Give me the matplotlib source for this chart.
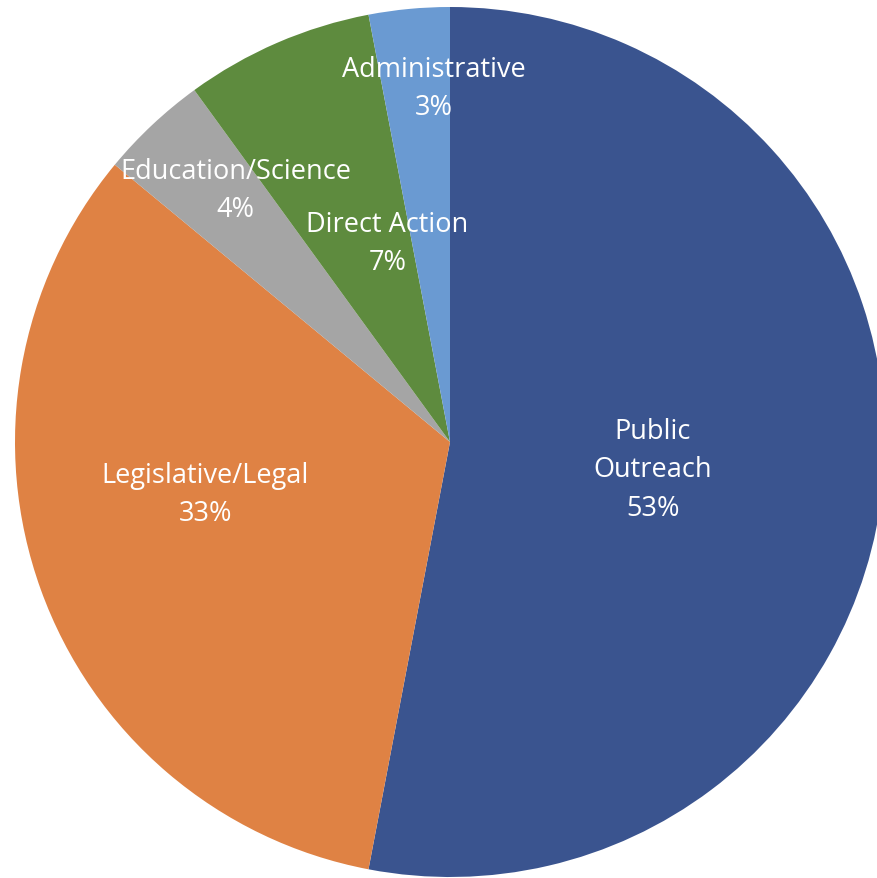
import numpy as np
import matplotlib.pyplot as plt

# slice data, clockwise from 12 o'clock
labels = ['Public\nOutreach', 'Legislative/Legal', 'Education/Science', 'Direct Action', 'Administrative']
shares = [53, 33, 4, 7, 3]
colors = ['#3A548F', '#DF8244', '#A5A5A5', '#5E8B3E', '#6A9AD2']

# where each label sits inside its slice (fraction of radius, angle nudge in degrees)
label_r = [0.47, 0.575, 0.76, 0.48, 0.815]
label_nudge = [-2.2, -7.8, -2.8, -6.0, -2.8]

fig = plt.figure(figsize=(8.77, 8.79), dpi=100)
ax = fig.add_axes([15 / 877, 1 / 879, 870 / 877, 870 / 879])

wedges, _ = ax.pie(shares, colors=colors, startangle=90, counterclock=False,
                   radius=1, wedgeprops=dict(linewidth=0))

for w, lab, val, r, d in zip(wedges, labels, shares, label_r, label_nudge):
    mid = np.deg2rad((w.theta1 + w.theta2) / 2 + d)
    ax.text(r * np.cos(mid), r * np.sin(mid), f'{lab}\n{val}%',
            ha='center', va='center', color='white', fontsize=19.5,
            family='Open Sans', linespacing=1.5)

ax.set_xlim(-1, 1)
ax.set_ylim(-1, 1)
ax.axis('off')

fig.savefig('out.png', dpi=100)
